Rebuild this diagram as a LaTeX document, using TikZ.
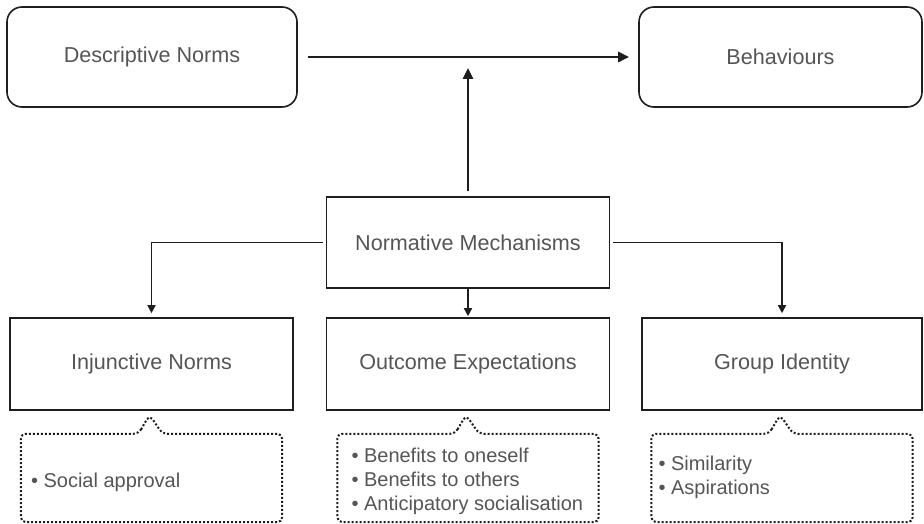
\documentclass[tikz,border=0pt]{standalone}
\usepackage{fontspec}
\setmainfont{Liberation Sans}
\usepackage{xcolor}
\usetikzlibrary{arrows.meta,positioning,calc}

\definecolor{labelgray}{HTML}{555555}
\definecolor{linegray}{HTML}{1E1E1E}

\tikzset{
  roundbox/.style={draw=linegray, line width=1.6pt, rounded corners=15pt, text=labelgray,
    minimum height=100pt, font=\fontsize{21.6}{25}\selectfont},
  mechbox/.style={draw=linegray, line width=1.6pt, text=labelgray,
    minimum width=283pt, minimum height=91pt, font=\fontsize{21.6}{25}\selectfont},
  calloutbody/.style={draw=none, minimum width=261pt, minimum height=88pt},
  calloutline/.style={draw=linegray, line width=2pt, dash pattern=on 2pt off 2pt, rounded corners=5pt},
  listtext/.style={anchor=west, align=left, text=labelgray, inner sep=0pt,
    font=\fontsize{20}{24}\selectfont},
  bigarrow/.style={draw=linegray, line width=2.6pt, -{Triangle[length=11pt,width=10pt]}},
  branch/.style={draw=linegray, line width=1.5pt, -{Triangle[length=8pt,width=8pt]}}
}

\begin{document}
\begin{tikzpicture}[x=1pt, y=1pt]
\useasboundingbox (0,0) rectangle (924,523);

% Top row
\node[roundbox, minimum width=290pt] (desc) at (152,466) {Descriptive Norms};
\node[roundbox, minimum width=283pt] (behav) at (780.5,466) {Behaviours};
\draw[bigarrow, shorten <=10pt, shorten >=9pt] (desc.east) -- (behav.west);
\coordinate (joint) at (468,466);

% Mechanisms
\node[mechbox, minimum height=91pt] (norm) at (468,280.5) {Normative Mechanisms};
\draw[bigarrow, shorten <=5pt, shorten >=11pt] (norm.north) -- (joint);

% Second row
\node[mechbox, minimum height=92pt] (inj) at (151.5,159) {Injunctive Norms};
\node[mechbox, minimum height=92pt] (outc) at (468,159) {Outcome Expectations};
\node[mechbox, minimum width=280pt, minimum height=92pt] (group) at (782,159) {Group Identity};

\draw[branch, shorten <=3pt, shorten >=4pt] (norm.west) -| (inj.north);
\draw[branch, shorten >=1pt] (norm.south) -- (outc.north);
\draw[branch, shorten <=3pt, shorten >=4pt] (norm.east) -| (group.north);

% Callouts
\node[calloutbody, below=23pt of inj] (cb1) {};
\node[calloutbody, below=23pt of outc] (cb2) {};
\node[calloutbody, below=23pt of group] (cb3) {};

\foreach \b/\c in {inj/cb1, outc/cb2, group/cb3} {
  \draw[calloutline] ($(\c.north)+(-13,0)$) -- ($(\b.south)+(-2,-4)$) -- ($(\c.north)+(11,0)$)
    -- (\c.north east) -- (\c.south east) -- (\c.south west) -- (\c.north west) -- cycle;
}

\node[listtext] (l1) at ($(cb1.west)+(10,-4)$) {• Social approval};
\node[listtext] (l2) at ($(cb2.west)+(14,-3)$) {• Benefits to oneself\\• Benefits to others\\• Anticipatory socialisation};
\node[listtext] (l3) at ($(cb3.west)+(7,1)$) {• Similarity\\• Aspirations};

\end{tikzpicture}
\end{document}
